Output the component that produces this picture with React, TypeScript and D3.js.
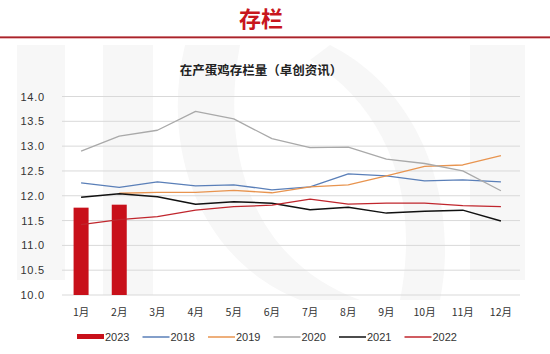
import React, { useRef, useEffect } from "react";
import * as d3 from "d3";

const months = ["1月", "2月", "3月", "4月", "5月", "6月", "7月", "8月", "9月", "10月", "11月", "12月"];
const yTicks = [10.0, 10.5, 11.0, 11.5, 12.0, 12.5, 13.0, 13.5, 14.0];

const v2023 = [11.76, 11.82];
const v2018 = [12.26, 12.17, 12.28, 12.2, 12.22, 12.12, 12.18, 12.44, 12.4, 12.3, 12.32, 12.28];
const v2019 = [null, 12.05, 12.07, 12.07, 12.11, 12.06, 12.18, 12.22, 12.4, 12.59, 12.62, 12.81];
const v2020 = [12.9, 13.2, 13.32, 13.7, 13.55, 13.15, 12.97, 12.98, 12.74, 12.65, 12.5, 12.1];
const v2021 = [11.97, 12.04, 11.98, 11.83, 11.88, 11.85, 11.72, 11.77, 11.65, 11.69, 11.71, 11.49];
const v2022 = [11.42, 11.52, 11.58, 11.71, 11.78, 11.81, 11.93, 11.83, 11.85, 11.85, 11.8, 11.78];

const lineSeries = [
  { name: "2018", values: v2018, color: "#5a7fb8", width: 1.3 },
  { name: "2019", values: v2019, color: "#e8944f", width: 1.3 },
  { name: "2020", values: v2020, color: "#a9a9a9", width: 1.3 },
  { name: "2021", values: v2021, color: "#111111", width: 1.5 },
  { name: "2022", values: v2022, color: "#c0262d", width: 1.3 },
];

const barColor = "#c8101a";
const cjk = "'Noto Sans CJK SC', 'Liberation Sans', sans-serif";
const num = "'Liberation Sans', Arial, sans-serif";

const App = () => {
  const svgRef = useRef<SVGSVGElement>(null);

  useEffect(() => {
    const width = 550, height = 354;
    const margin = { top: 96.5, right: 30, bottom: 59, left: 62 };

    const svg = d3.select(svgRef.current)
      .attr("width", width)
      .attr("height", height)
      .style("background", "#fff");

    svg.selectAll("*").remove();

    // faint watermark shapes
    const wm = svg.append("g").attr("fill", "#f7f7f7");
    wm.append("rect").attr("x", 17).attr("y", 45).attr("width", 48).attr("height", 235);
    wm.append("rect").attr("x", 103).attr("y", 45).attr("width", 50).attr("height", 250);
    wm.append("rect").attr("x", 470).attr("y", 45).attr("width", 55).attr("height", 235);
    wm.append("path")
      .attr("d", "M185,45 C160,150 200,260 300,300 L360,300 C250,260 220,150 240,45 Z");
    wm.append("path")
      .attr("d", "M330,45 C420,90 460,200 440,300 L400,300 C420,200 390,110 310,60 Z");

    // header
    svg.append("text")
      .attr("x", 261).attr("y", 27)
      .attr("text-anchor", "middle")
      .style("font-family", cjk)
      .style("font-weight", "bold")
      .style("font-size", "22px")
      .attr("fill", "#c8161d")
      .text("存栏");

    svg.append("rect").attr("x", 0).attr("y", 36).attr("width", width).attr("height", 3).attr("fill", "#f3c9cb");
    svg.append("rect").attr("x", 0).attr("y", 36.5).attr("width", width).attr("height", 1.6).attr("fill", "#a8242b");

    svg.append("text")
      .attr("x", 261).attr("y", 75)
      .attr("text-anchor", "middle")
      .style("font-family", cjk)
      .style("font-weight", "bold")
      .style("font-size", "12.5px")
      .attr("fill", "#222")
      .text("在产蛋鸡存栏量（卓创资讯）");

    const x = d3.scaleBand()
      .domain(months)
      .range([margin.left, width - margin.right])
      .padding(0);

    const y = d3.scaleLinear()
      .domain([10, 14])
      .range([295, margin.top]);

    // grid
    svg.append("g")
      .selectAll("line")
      .data(yTicks)
      .enter()
      .append("line")
      .attr("x1", margin.left)
      .attr("x2", width - margin.right)
      .attr("y1", d => y(d))
      .attr("y2", d => y(d))
      .attr("stroke", "#d9d9d9")
      .attr("stroke-width", 1);

    // y labels
    svg.append("g")
      .selectAll("text")
      .data(yTicks)
      .enter()
      .append("text")
      .attr("x", 45)
      .attr("y", d => y(d) + 4)
      .attr("text-anchor", "end")
      .style("font-family", num)
      .style("font-size", "11px")
      .style("letter-spacing", "0.8px")
      .attr("fill", "#333")
      .text(d => d.toFixed(1));

    // x labels
    svg.append("g")
      .selectAll("text")
      .data(months)
      .enter()
      .append("text")
      .attr("x", d => x(d)! + x.bandwidth() / 2)
      .attr("y", 316)
      .attr("text-anchor", "middle")
      .style("font-family", cjk)
      .style("font-size", "10.5px")
      .attr("fill", "#333")
      .text(d => d);

    // bars 2023
    const barW = 15;
    svg.append("g")
      .selectAll("rect")
      .data(v2023)
      .enter()
      .append("rect")
      .attr("x", (d, i) => x(months[i])! + x.bandwidth() / 2 - barW / 2)
      .attr("y", d => y(d))
      .attr("width", barW)
      .attr("height", d => y(10) - y(d))
      .attr("fill", barColor);

    // lines
    const line = d3.line<number | null>()
      .defined(d => d != null)
      .x((d, i) => x(months[i])! + x.bandwidth() / 2)
      .y(d => y(d as number));

    lineSeries.forEach(s => {
      svg.append("path")
        .datum(s.values)
        .attr("fill", "none")
        .attr("stroke", s.color)
        .attr("stroke-width", s.width)
        .attr("stroke-linejoin", "round")
        .attr("d", line);
    });

    // legend
    const legendItems = [{ name: "2023", color: barColor, bar: true }, ...lineSeries.map(s => ({ name: s.name, color: s.color, bar: false }))];
    const lg = svg.append("g");
    legendItems.forEach((it, i) => {
      const lx = 77 + i * 65.5;
      const ly = 337;
      if (it.bar) {
        lg.append("rect").attr("x", lx).attr("y", ly - 3).attr("width", 27).attr("height", 5).attr("fill", it.color);
      } else {
        lg.append("line")
          .attr("x1", lx).attr("x2", lx + 27)
          .attr("y1", ly).attr("y2", ly)
          .attr("stroke", it.color).attr("stroke-width", 1.5);
      }
      lg.append("text")
        .attr("x", lx + 28)
        .attr("y", ly + 4)
        .style("font-family", num)
        .style("font-size", "11px")
        .attr("fill", "#333")
        .text(it.name);
    });
  }, []);

  return (
    <div style={{ position: "absolute", left: 0, top: 0 }}>
      <svg ref={svgRef}></svg>
    </div>
  );
};

export default App;
